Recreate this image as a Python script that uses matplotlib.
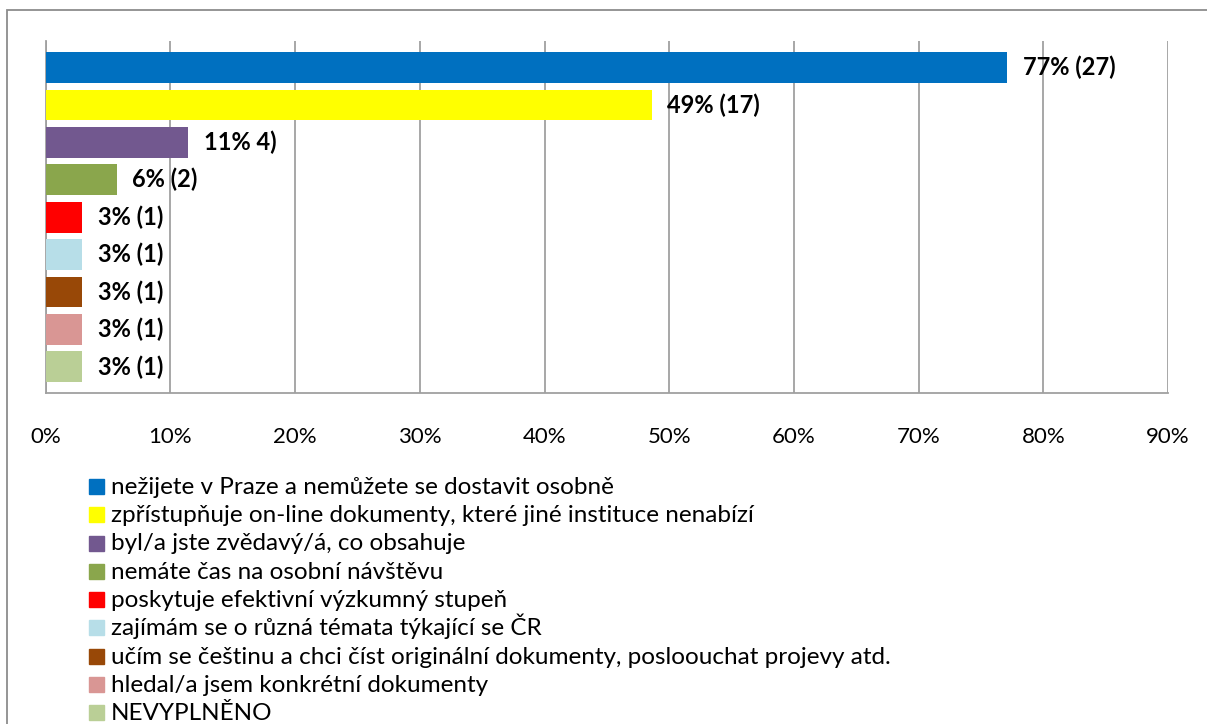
import matplotlib.pyplot as plt
from matplotlib.patches import Rectangle

categories = [
    "nežijete v Praze a nemůžete se dostavit osobně",
    "zpřístupňuje on-line dokumenty, které jiné instituce nenabízí",
    "byl/a jste zvědavý/á, co obsahuje",
    "nemáte čas na osobní návštěvu",
    "poskytuje efektivní výzkumný stupeň",
    "zajímám se o různá témata týkající se ČR",
    "učím se češtinu a chci číst originální dokumenty, posloouchat projevy atd.",
    "hledal/a jsem konkrétní dokumenty",
    "NEVYPLNĚNO",
]
values = [77.1, 48.6, 11.4, 5.7, 2.9, 2.9, 2.9, 2.9, 2.9]
labels = ["77% (27)", "49% (17)", "11% 4)", "6% (2)", "3% (1)", "3% (1)", "3% (1)", "3% (1)", "3% (1)"]
colors = ["#0070C0", "#FFFF00", "#72588F", "#8AA64C", "#FF0000",
          "#B7DEE8", "#984807", "#D99694", "#BACF96"]
xticks = [0, 10, 20, 30, 40, 50, 60, 70, 80, 90]

plt.rcParams['font.family'] = ['Lato', 'DejaVu Sans']

W, H = 1207, 724
fig = plt.figure(figsize=(W / 100, H / 100), dpi=100)

# outer frame of the chart
fig.patches.append(Rectangle((7 / W, -0.1), 1.2, 1 - 10 / H + 0.1, transform=fig.transFigure,
                             fill=False, edgecolor="#8c8c8c", linewidth=1.3))

ax = fig.add_axes([45.7 / W, 1 - 393 / H, (1168 - 45.7) / W, (393 - 41) / H])
y = list(range(len(values)))
ax.barh(y, values, height=0.825, color=colors, zorder=3)
ax.set_ylim(8.70, -0.709)
ax.set_xlim(0, 90)
ax.set_xticks(xticks)
ax.set_xticklabels([f"{t}%" for t in xticks], fontsize=16)
ax.tick_params(axis="x", length=0, pad=24.5)
ax.set_yticks([])
ax.grid(axis="x", color="#a0a0a0", linewidth=1.3, zorder=0)
for s in ["top", "right"]:
    ax.spines[s].set_visible(False)
ax.spines["left"].set_color("#a0a0a0")
ax.spines["bottom"].set_color("#a0a0a0")
ax.spines["left"].set_linewidth(1.3)
ax.spines["bottom"].set_linewidth(1.3)

for yi, v, lab in zip(y, values, labels):
    ax.annotate(lab, (v, yi), xytext=(11.3, 0), textcoords="offset points",
                va="center", ha="left", fontsize=17, fontweight="bold", zorder=4)

# legend drawn row by row
base0, dy = 494, 28.25
for i, (cat, col) in enumerate(zip(categories, colors)):
    yb = base0 + i * dy
    fig.patches.append(Rectangle((89 / W, 1 - yb / H), 15 / W, 15 / H,
                                 transform=fig.transFigure, color=col))
    fig.text(111 / W, 1 - yb / H, cat, fontsize=17.5, va="baseline", ha="left")

fig.savefig("out.png", dpi=100)
